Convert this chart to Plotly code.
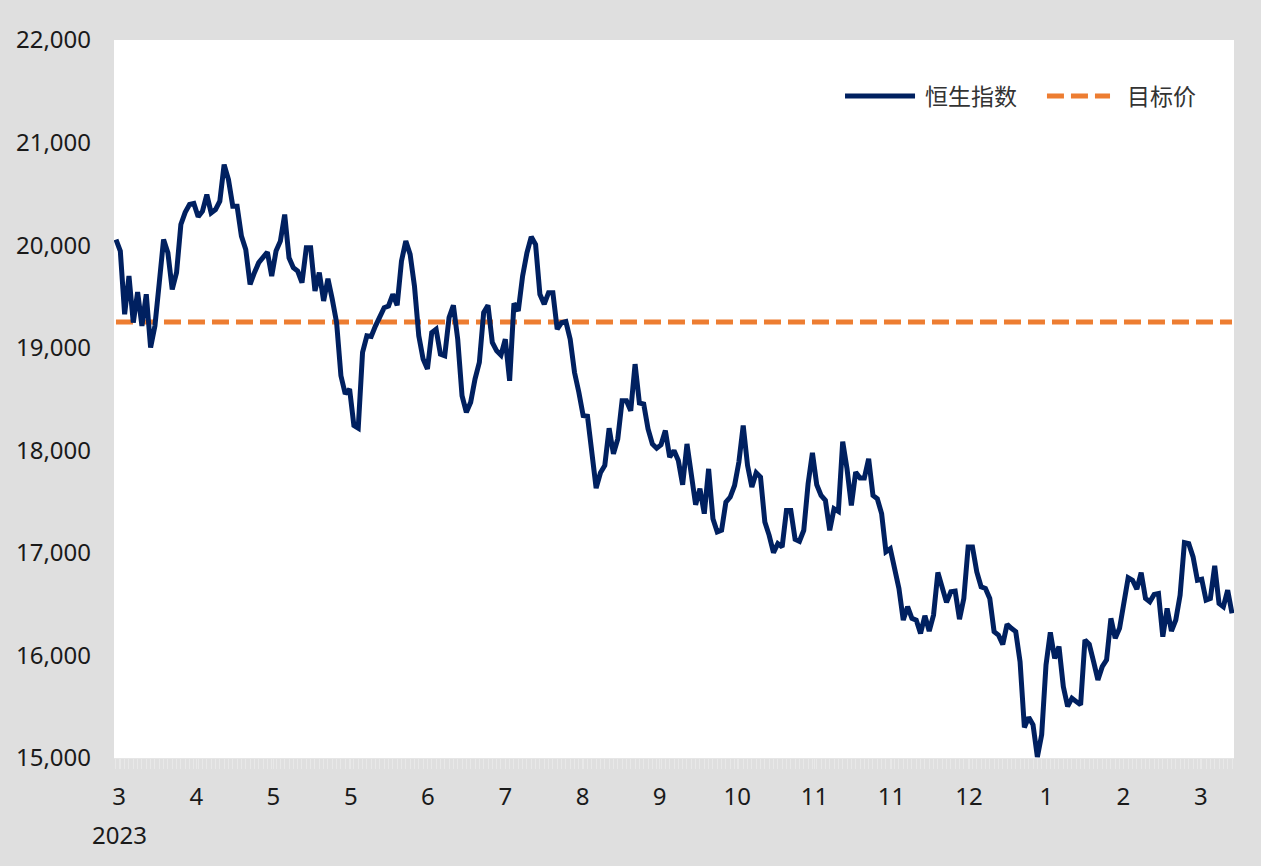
import plotly.graph_objects as go

# Hang Seng Index daily closes (trading-day index -> close)
hsi = [
    20055, 19942, 19326, 19699, 19245, 19543, 19213, 19521, 19002, 19213,
    19630, 20055, 19925, 19569, 19732, 20201, 20320, 20396, 20406, 20276,
    20331, 20493, 20315, 20347, 20428, 20785, 20640, 20379, 20379, 20088,
    19958, 19618, 19732, 19829, 19880, 19932, 19699, 19942, 20039, 20298,
    19877, 19780, 19747, 19634, 19975, 19975, 19553, 19732, 19456, 19673,
    19472, 19245, 18727, 18549, 18597, 18241, 18215, 18954, 19116, 19110,
    19213, 19294, 19391, 19407, 19521, 19414, 19845, 20039, 19910, 19601,
    19116, 18889, 18792, 19148, 19180, 18937, 18921, 19294, 19414, 19083,
    18532, 18370, 18468, 18694, 18857, 19343, 19414, 19051, 18970, 18928,
    19083, 18678, 19433, 19359, 19699, 19925, 20081, 20007, 19521, 19424,
    19537, 19537, 19180, 19245, 19255, 19083, 18759, 18565, 18338, 18332,
    17949, 17631, 17781, 17852, 18215, 17965, 18111, 18484, 18484, 18386,
    18840, 18461, 18451, 18208, 18062, 18020, 18053, 18192, 17933, 17998,
    17900, 17664, 18062, 17771, 17469, 17625, 17382, 17819, 17333, 17204,
    17220, 17496, 17544, 17657, 17885, 18241, 17852, 17641, 17781, 17739,
    17301, 17171, 17003, 17090, 17058, 17414, 17414, 17132, 17113, 17220,
    17674, 17975, 17664, 17560, 17511, 17220, 17431, 17405, 18085, 17819,
    17463, 17787, 17729, 17729, 17917, 17560, 17528, 17382, 17010, 17040,
    16847, 16653, 16345, 16475, 16361, 16345, 16215, 16387, 16238, 16393,
    16808, 16653, 16517, 16620, 16627, 16354, 16556, 17058, 17058, 16815,
    16669, 16653, 16556, 16232, 16199, 16108, 16303, 16264, 16232, 15940,
    15298, 15396, 15324, 15010, 15227, 15907, 16225, 15972, 16086, 15697,
    15503, 15583, 15544, 15518, 16150, 16108, 15940, 15761, 15891, 15956,
    16361, 16167, 16264, 16507, 16757, 16733, 16646, 16808, 16556, 16523,
    16594, 16604, 16183, 16458, 16238, 16345, 16588, 17100, 17090, 16961,
    16733, 16743, 16539, 16556, 16873, 16507, 16475, 16636, 16410,
]
day = list(range(len(hsi)))

target_price = 19250

# month labels along the trading-day axis
month_ticks = [0.7, 18.6, 36.4, 54.3, 72.1, 90.0, 107.9, 125.7,
               143.6, 161.5, 179.3, 197.2, 215.1, 232.9, 250.8]
month_labels = ["3", "4", "5", "5", "6", "7", "8", "9",
                "10", "11", "11", "12", "1", "2", "3"]
year_label = "2023"

series_names = ["恒生指数", "目标价"]

NAVY = "#002060"
ORANGE = "#ED7D31"
BG = "#dfdfdf"
FONT = "Noto Sans, Noto Sans CJK SC, sans-serif"

fig = go.Figure()

fig.add_trace(go.Scatter(
    x=[day[0], day[-1]], y=[target_price, target_price],
    mode="lines", name=series_names[1],
    line=dict(color=ORANGE, width=5, dash="17px,7px"),
    showlegend=False, hoverinfo="skip",
))

fig.add_trace(go.Scatter(
    x=day, y=hsi, mode="lines", name=series_names[0],
    line=dict(color=NAVY, width=5),
    showlegend=False,
))

# legend drawn as line samples + labels in the top-right corner
leg_y = 0.922
fig.add_shape(type="line", xref="paper", yref="paper",
              x0=0.6527, x1=0.7152, y0=leg_y, y1=leg_y,
              line=dict(color=NAVY, width=5))
fig.add_shape(type="line", xref="paper", yref="paper",
              x0=0.8330, x1=0.8893, y0=leg_y, y1=leg_y,
              line=dict(color=ORANGE, width=5, dash="17px,7px"))
fig.add_annotation(xref="paper", yref="paper", x=0.7223, y=leg_y,
                   text=series_names[0], showarrow=False,
                   xanchor="left", yanchor="middle",
                   font=dict(family=FONT, size=23, color="#333333"))
fig.add_annotation(xref="paper", yref="paper", x=0.9027, y=leg_y,
                   text=series_names[1], showarrow=False,
                   xanchor="left", yanchor="middle",
                   font=dict(family=FONT, size=23, color="#333333"))

# year under the first month label
fig.add_annotation(xref="x", yref="paper", x=month_ticks[0], y=-0.107,
                   text=year_label, showarrow=False,
                   xanchor="center", yanchor="middle",
                   font=dict(family=FONT, size=24, color="#1a1a1a"))

fig.update_layout(
    width=1261, height=866,
    margin=dict(l=114, r=27, t=40, b=108),
    paper_bgcolor=BG, plot_bgcolor="white",
    font=dict(family=FONT, size=24, color="#1a1a1a"),
    xaxis=dict(
        range=[-0.46, 258.46],
        tickmode="array", tickvals=month_ticks, ticktext=month_labels,
        showgrid=False, zeroline=False,
        showline=True, linecolor="#e6e6e6", linewidth=1,
        ticks="outside", ticklen=10, tickcolor="#e8e8e8", tickwidth=1,
        ticklabelstandoff=7,
        minor=dict(ticks="outside", ticklen=10, tickcolor="#e8e8e8",
                   dtick=1, tick0=0, tickwidth=1),
        tickfont=dict(family=FONT, size=24, color="#1a1a1a"),
        fixedrange=True,
    ),
    yaxis=dict(
        range=[15000, 22000], dtick=1000, tickformat=",",
        showgrid=False, zeroline=False, showline=False,
        ticks="", ticklabelstandoff=22,
        tickfont=dict(family=FONT, size=24, color="#1a1a1a"),
        fixedrange=True,
    ),
)

fig.write_html("out.html")
